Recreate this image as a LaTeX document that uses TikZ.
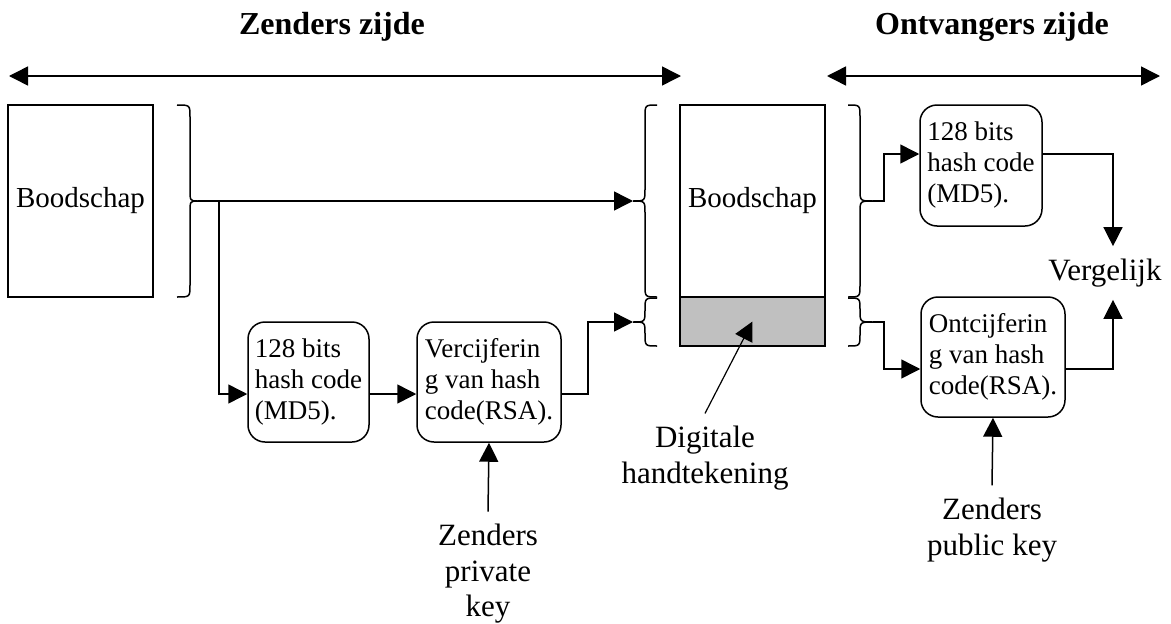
\documentclass[tikz,border=0pt]{standalone}
\usepackage{fontspec}
\setmainfont{Liberation Serif}
\usepackage{tikz}
\usetikzlibrary{arrows.meta}
\definecolor{siggray}{RGB}{192,192,192}
\newcommand{\curly}[5]{%
  \draw ({#1},{#2}) .. controls ({#1+#4},{#2}) .. ({#1+#4},{#2+12})
    -- ({#1+#4},{(#2+#3)/2-12}) .. controls ({#1+#4},{(#2+#3)/2}) .. ({#1+#5},{(#2+#3)/2})
    .. controls ({#1+#4},{(#2+#3)/2}) .. ({#1+#4},{(#2+#3)/2+12})
    -- ({#1+#4},{#3-12}) .. controls ({#1+#4},{#3}) .. ({#1},{#3});}
\begin{document}
\begin{tikzpicture}[x=1pt,y=-1pt,line width=1.5,>={Triangle[length=19pt,width=19pt]},
  hashbox/.style={draw,rounded corners=17,align=left,inner sep=0,font=\fontsize{27}{31}\selectfont},
  msgbox/.style={draw,minimum width=145,minimum height=192,inner sep=0,font=\fontsize{29}{33}\selectfont},
  lbl/.style={align=center,inner sep=12,font=\fontsize{31}{35.5}\selectfont},
  ttl/.style={font=\bfseries\fontsize{32}{36}\selectfont}]
  \useasboundingbox (0,0) rectangle (1171,624);

  \node[ttl] (zt) at (332,27) {Zenders zijde};
  \node[ttl] (ot) at (992,27) {Ontvangers zijde};
  \coordinate (zl) at (9,76);   \coordinate (zr) at (681,76);
  \coordinate (ol) at (827,76); \coordinate (or) at (1160,76);
  \draw[<->] (zl) -- (zr);
  \draw[<->] (ol) -- (or);

  \node[msgbox] (m1) at (80.5,201) {Boodschap};
  \node[msgbox] (m2) at (752.5,201) {Boodschap};
  \node[draw,fill=siggray,minimum width=145,minimum height=49,inner sep=0] (sig) at (752.5,321.5) {};

  \node[hashbox,minimum width=121,minimum height=120] (h1) at (308.5,382) {128 bits\\hash code\\(MD5).};
  \node[hashbox,minimum width=144,minimum height=120] (v1) at (489,382) {Vercijferin\\g van hash\\code(RSA).};
  \node[hashbox,minimum width=122,minimum height=121] (h2) at (981,165.5) {128 bits\\hash code\\(MD5).};
  \node[hashbox,minimum width=144,minimum height=120] (v2) at (993,357) {Ontcijferin\\g van hash\\code(RSA).};

  \node[lbl] (vgl) at (1105,273) {Vergelijk};
  \node[lbl] (dig) at (705,458) {Digitale\\handtekening};
  \node[lbl] (priv) at (488,574) {Zenders\\private\\key};
  \node[lbl] (pub) at (992,530) {Zenders\\public key};

  \curly{177}{105}{297}{13}{21}
  \curly{657}{105}{297}{-12}{-24}
  \curly{657}{298}{346}{-12}{-24}
  \curly{848}{105}{297}{12}{25}
  \curly{848}{298}{346}{12}{25}
  \coordinate (lbt) at (198,201);
  \coordinate (split) at (219,201);
  \coordinate (mbt) at (633,201);
  \coordinate (mst) at (633,322);
  \coordinate (rbt) at (873,201);
  \coordinate (rst) at (873,322);

  \draw[->] (lbt) -- (mbt);
  \draw[->] (split) |- ([yshift=-12]h1.west);
  \draw[->] ([yshift=-12]h1.east) -- ([yshift=-12]v1.west);
  \draw[->] ([yshift=-12]v1.east) -- ++(26,0) |- (mst);
  \draw[->] (rbt) -- ++(11,0) |- ([yshift=11.5]h2.west);
  \draw[->] (rst) -- ++(11,0) |- ([yshift=-12]v2.west);
  \draw[->] ([yshift=11.5]h2.east) -| ([xshift=8]vgl.north);
  \draw[->] ([yshift=-12]v2.east) -| ([xshift=8]vgl.south);
  \draw[->] (priv.north) -- (v1.south);
  \draw[->] (pub.north) -- (v2.south);
  \draw[->,line width=1.2] (dig.north) -- (sig.center);
\end{tikzpicture}
\end{document}
